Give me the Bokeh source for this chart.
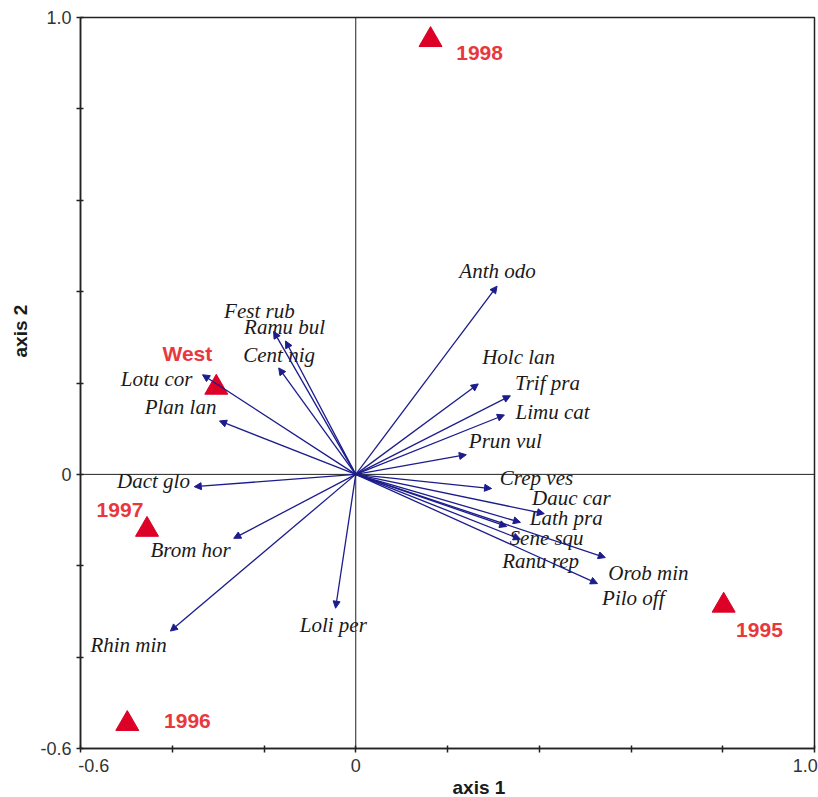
from bokeh.plotting import figure
from bokeh.models import (ColumnDataSource, Arrow, NormalHead, Span, FixedTicker,
                          LinearAxis, Title)
from bokeh.core.properties import value
from bokeh.embed import file_html
from bokeh.resources import INLINE

# Species vectors (biplot arrows)
species = ["Anth odo", "Holc lan", "Trif pra", "Limu cat", "Prun vul", "Crep ves",
           "Dauc car", "Lath pra", "Sene squ", "Ranu rep", "Orob min", "Pilo off",
           "Fest rub", "Ramu bul", "Cent nig", "Lotu cor", "Plan lan", "Dact glo",
           "Brom hor", "Rhin min", "Loli per"]
sp_x = [0.308, 0.267, 0.337, 0.324, 0.241, 0.296, 0.411, 0.359, 0.359, 0.329, 0.544, 0.527,
        -0.179, -0.153, -0.168, -0.334, -0.297, -0.352, -0.266, -0.404, -0.044]
sp_y = [0.412, 0.198, 0.172, 0.130, 0.043, -0.031, -0.086, -0.105, -0.142, -0.114, -0.182, -0.239,
        0.313, 0.292, 0.233, 0.218, 0.117, -0.027, -0.140, -0.343, -0.293]
# label anchor positions (data units)
sp_lab_x = [0.309, 0.355, 0.418, 0.429, 0.326, 0.394, 0.470, 0.459, 0.416, 0.403, 0.638, 0.605,
            -0.210, -0.155, -0.167, -0.434, -0.382, -0.441, -0.360, -0.495, -0.049]
sp_lab_y = [0.446, 0.257, 0.200, 0.137, 0.073, -0.007, -0.051, -0.096, -0.140, -0.190, -0.216, -0.271,
            0.357, 0.322, 0.261, 0.209, 0.147, -0.014, -0.166, -0.373, -0.330]

# Sample / environmental points
sites = ["1998", "West", "1997", "1996", "1995"]
site_x = [0.163, -0.304, -0.455, -0.498, 0.802]
site_y = [0.951, 0.190, -0.121, -0.546, -0.287]
site_lab_x = [0.270, -0.367, -0.514, -0.367, 0.880]
site_lab_y = [0.922, 0.265, -0.079, -0.540, -0.341]

ticks = [-0.6, -0.4, -0.2, 0.0, 0.2, 0.4, 0.6, 0.8, 1.0]
y_tick_labels = {-0.6: "-0.6", 0.0: "0", 1.0: "1.0"}
# x tick labels sit slightly inward from their ticks in the original
x_tick_label_pos = [-0.571, 0.0, 0.980]
x_tick_text = ["-0.6", "0", "1.0"]

ARROW = "#1c1c8c"
RED = "#e8383d"
TRI = "#dd0027"
INK = "#222222"

p = figure(width=818, height=797, x_range=(-0.6, 1.0), y_range=(-0.6, 1.0),
           output_backend="svg", toolbar_location=None,
           min_border_left=80, min_border_right=4, min_border_top=17, min_border_bottom=46)
p.xgrid.visible = False
p.ygrid.visible = False
p.outline_line_color = INK
p.outline_line_width = 1.5
p.background_fill_color = "white"
p.border_fill_color = "white"

for ax in (p.xaxis[0], p.yaxis[0]):
    ax.ticker = FixedTicker(ticks=ticks)
    ax.axis_line_color = INK
    ax.axis_line_width = 1.5
    ax.major_tick_line_color = INK
    ax.major_tick_line_width = 1.5
    ax.major_tick_in = 3
    ax.major_tick_out = 4
    ax.minor_tick_line_color = None
    ax.major_label_text_font = "Liberation Sans"
    ax.major_label_text_font_size = "18px"
    ax.major_label_text_color = "#333333"

p.yaxis[0].major_label_overrides = {t: y_tick_labels.get(t, "") for t in ticks}
p.yaxis[0].major_label_standoff = 5

# main x axis: tick marks only
p.xaxis[0].major_label_overrides = {t: "" for t in ticks}
p.xaxis[0].major_label_text_font_size = "1px"
p.xaxis[0].major_label_standoff = 0

# second x axis: labels only
lab_axis = LinearAxis(ticker=FixedTicker(ticks=x_tick_label_pos),
                      major_label_overrides={v: t for v, t in zip(x_tick_label_pos, x_tick_text)},
                      axis_line_color=None, major_tick_line_color=None,
                      major_tick_in=0, major_tick_out=0, minor_tick_line_color=None,
                      major_label_standoff=6, major_label_text_font="Liberation Sans",
                      major_label_text_font_size="18px", major_label_text_color="#333333")
p.add_layout(lab_axis, "below")

# axis titles
p.add_layout(Title(text="axis 1", align="left", offset=372, text_font="Liberation Sans",
                   text_font_style="bold", text_font_size="19px", text_color="#1a1a1a",
                   standoff=0), "below")
p.add_layout(Title(text="axis 2", align="left", offset=391, text_font="Liberation Sans",
                   text_font_style="bold", text_font_size="19px", text_color="#1a1a1a",
                   standoff=14), "left")

# zero lines
p.add_layout(Span(location=0, dimension="width", line_color=INK, line_width=1))
p.add_layout(Span(location=0, dimension="height", line_color=INK, line_width=1))

# arrows
src = ColumnDataSource(dict(x=sp_x, y=sp_y))
p.add_layout(Arrow(end=NormalHead(size=7, fill_color=ARROW, line_color=ARROW, line_width=1),
                   x_start=0, y_start=0, x_end="x", y_end="y", source=src,
                   line_color=ARROW, line_width=1.3))

lab_src = ColumnDataSource(dict(x=sp_lab_x, y=sp_lab_y, t=species))
p.text(x="x", y="y", text="t", source=lab_src, text_align="center", text_baseline="middle",
       text_font=value("Liberation Serif"), text_font_style="italic",
       text_font_size="21px", text_color="#1a1a1a")

# sites
p.scatter(x=site_x, y=site_y, marker="triangle", size=23, fill_color=TRI, line_color=TRI)
site_src = ColumnDataSource(dict(x=site_lab_x, y=site_lab_y, t=sites))
p.text(x="x", y="y", text="t", source=site_src, text_align="center", text_baseline="middle",
       text_font=value("Liberation Sans"), text_font_style="bold",
       text_font_size="21px", text_color=RED)

open("out.html", "w").write(file_html(p, INLINE))
